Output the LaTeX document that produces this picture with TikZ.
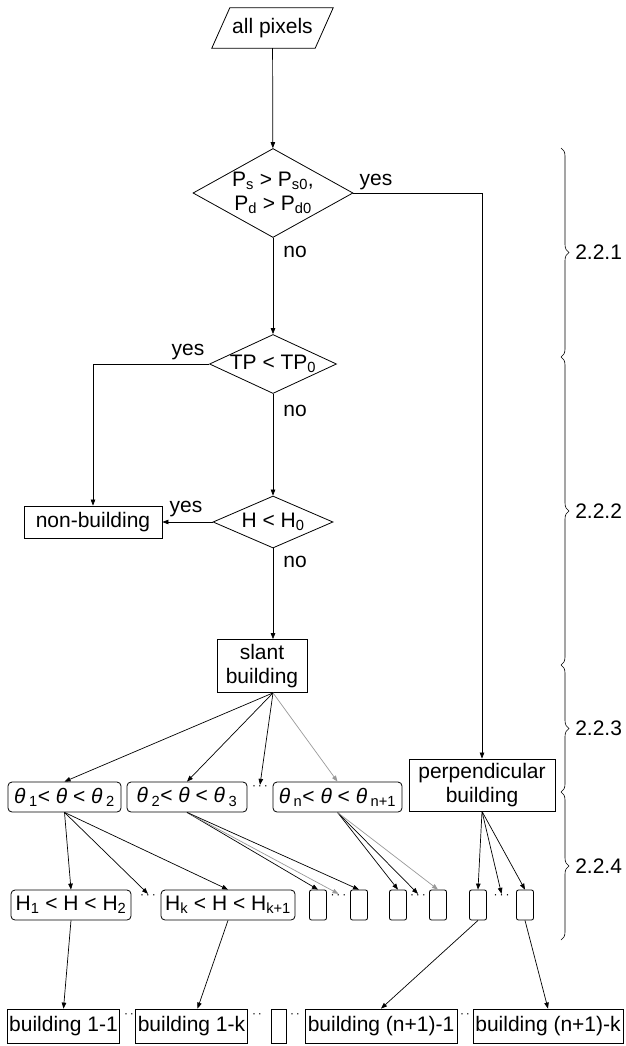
\documentclass[tikz,border=0pt]{standalone}
\usepackage{fontspec}
\setmainfont{Liberation Sans}
\usepackage{tikz}
\usetikzlibrary{positioning, arrows.meta, shapes.geometric, calc, decorations.pathreplacing}
\tikzstyle{arrow} = [line width=0.7pt, -{Triangle[length=6pt,width=4.5pt]}]
\tikzstyle{faintarrow} = [arrow, black!40]
\tikzstyle{flowbox} = [draw, line width=0.8pt, inner sep=2pt, align=center]
\tikzstyle{roundbox} = [flowbox, rounded corners=4pt, minimum height=30]
\tikzstyle{smallbox} = [flowbox, rounded corners=2pt, minimum width=17, minimum height=30]
\tikzstyle{decision} = [draw, diamond, line width=0.8pt, inner sep=0pt, align=center]
\tikzstyle{tag} = [inner sep=0pt]
\tikzstyle{dotsnode} = [inner sep=1pt, font=\fontsize{12}{12}\selectfont]
\tikzstyle{section} = [decorate, decoration={brace, amplitude=8pt}, line width=0.6pt]
\newcommand{\thI}{\textit{θ}}

\begin{document}
\begin{tikzpicture}[x=1pt, y=-1pt, font=\fontsize{21}{24}\selectfont]
    \useasboundingbox (0,0) rectangle (625,1046);

    % Start
    \node[minimum width=103, minimum height=40, inner sep=0pt] (allpix) at (272.5,28) {all pixels};
    \draw[line width=0.8pt] ($(allpix.south west)+(-9,0)$) -- ($(allpix.north west)+(9,0)$)
        -- ($(allpix.north east)+(9,0)$) -- ($(allpix.south east)+(-9,0)$) -- cycle;

    % Decisions
    \node[decision, aspect=1.8, minimum width=160, minimum height=89] (d1) at (273,193)
        {P\textsubscript{s} > P\textsubscript{s0},\\P\textsubscript{d} > P\textsubscript{d0}};
    \node[decision, aspect=2.15, minimum width=127, minimum height=59] (d2) at (273,364) {TP < TP\textsubscript{0}};
    \node[decision, aspect=2.3, minimum width=120, minimum height=52] (d3) at (273,522) {H < H\textsubscript{0}};

    \node[tag] (yes1) at (376,182) {yes};
    \node[tag] (no1) at (295,252) {no};
    \node[tag] (yes2) at (188,352) {yes};
    \node[tag] (no2) at (295,411) {no};
    \node[tag] (yes3) at (186,509) {yes};
    \node[tag] (no3) at (295,562) {no};

    % Classes
    \node[flowbox, minimum width=138, minimum height=32] (nonb) at (93,522) {non-building};
    \node[flowbox, minimum width=90, minimum height=53] (slant) at (262,666) {slant\\building};
    \node[flowbox, minimum width=146, minimum height=52] (perp) at (482,785) {perpendicular\\building};

    % Angle ranges
    \node[roundbox, minimum width=113] (th1) at (64.5,797) {\thI\,\textsubscript{1}< \thI{} < \thI\,\textsubscript{2}};
    \node[roundbox, minimum width=120] (th2) at (187,797) {\thI\,\textsubscript{2}< \thI{} < \thI\,\textsubscript{3}};
    \node[roundbox, minimum width=129] (thn) at (337.5,797) {\thI\,\textsubscript{n}< \thI{} < \thI\,\textsubscript{n+1}};
    \node[dotsnode] (dotsT) at (260,788) {·\,·\,·};

    % Height ranges
    \node[roundbox, minimum width=120] (h1) at (71,905) {H\textsubscript{1} < H < H\textsubscript{2}};
    \node[roundbox, minimum width=134] (hk) at (228,905) {H\textsubscript{k} < H < H\textsubscript{k+1}};
    \node[dotsnode] (dotsH) at (148,897) {·\,·\,·};

    \node[smallbox] (s1) at (318,905) {};
    \node[smallbox] (s2) at (359,905) {};
    \node[smallbox] (s3) at (398,905) {};
    \node[smallbox] (s4) at (438,905) {};
    \node[smallbox] (s5) at (478,905) {};
    \node[smallbox] (s6) at (525,905) {};
    \node[dotsnode] (dS1) at (338.5,897) {·\,·\,·};
    \node[dotsnode] (dS2) at (418,897) {·\,·\,·};
    \node[dotsnode] (dS3) at (501.5,897) {·\,·\,·};

    % Buildings
    \node[flowbox, minimum width=111, minimum height=34] (b11) at (63.5,1026) {building 1-1};
    \node[flowbox, minimum width=105, minimum height=34] (b1k) at (191.5,1026) {building 1-k};
    \node[flowbox, minimum width=15, minimum height=34] (bemp) at (278.5,1026) {};
    \node[flowbox, minimum width=152, minimum height=34] (bn1) at (381,1026) {building (n+1)-1};
    \node[flowbox, minimum width=150, minimum height=34] (bnk) at (548,1026) {building (n+1)-k};
    \node[dotsnode] (dB1) at (129,1016) {·\,·};
    \node[dotsnode] (dB2) at (257,1016) {·\,·};
    \node[dotsnode] (dB3) at (295,1016) {·\,·};
    \node[dotsnode] (dB4) at (465,1016) {·\,·};

    % Flow
    \draw[arrow] (allpix) -- (d1);
    \draw[arrow] (d1) -- (d2);
    \draw[arrow] (d1.east) -| (perp.north);
    \draw[arrow] (d2) -- (d3);
    \draw[arrow] (d2.west) -| (nonb.north);
    \draw[arrow] (d3.west) -- (nonb.east);
    \draw[arrow] (d3.south) -- (d3.south |- slant.north);

    \coordinate (sfan) at (slant.south -| d3.south);
    \draw[arrow] (sfan) -- (th1.north);
    \draw[arrow] (sfan) -- (th2.north);
    \draw[arrow] (sfan) -- (dotsT.north);
    \draw[faintarrow] (sfan) -- (thn.north);

    \draw[arrow] (th1.south) -- (h1.north);
    \draw[arrow] (th1.south) -- (dotsH.north);
    \draw[arrow] (th1.south) -- (hk.north);

    \draw[arrow] (th2.south) -- (s1.north);
    \draw[faintarrow] (th2.south) -- (dS1.north);
    \draw[arrow] (th2.south) -- (s2.north);

    \draw[arrow] (thn.south) -- (s3.north);
    \draw[arrow] (thn.south) -- (dS2.north);
    \draw[faintarrow] (thn.south) -- (s4.north);

    \draw[arrow] (perp.south) -- (s5.north);
    \draw[arrow] (perp.south) -- (dS3.north);
    \draw[arrow] (perp.south) -- (s6.north);

    \draw[arrow] (h1.south) -- (b11.north);
    \draw[arrow] (hk.south) -- ($(b1k.north)+(6,0)$);
    \draw[arrow] (s5.south) -- (bn1.north);
    \draw[arrow] (s6.south) -- (bnk.north);

    % Sections
    \coordinate (br0) at (561,148);
    \coordinate (br1) at (561,357);
    \coordinate (br2) at (561,665);
    \coordinate (br3) at (561,792);
    \coordinate (br4) at (561,940);
    \draw[section] (br0) -- (br1) node[midway, right=14pt, inner sep=0pt] (sec1) {2.2.1};
    \draw[section] (br1) -- (br2) node[midway, right=14pt, inner sep=0pt] (sec2) {2.2.2};
    \draw[section] (br2) -- (br3) node[midway, right=14pt, inner sep=0pt] (sec3) {2.2.3};
    \draw[section] (br3) -- (br4) node[midway, right=14pt, inner sep=0pt] (sec4) {2.2.4};
\end{tikzpicture}
\end{document}
